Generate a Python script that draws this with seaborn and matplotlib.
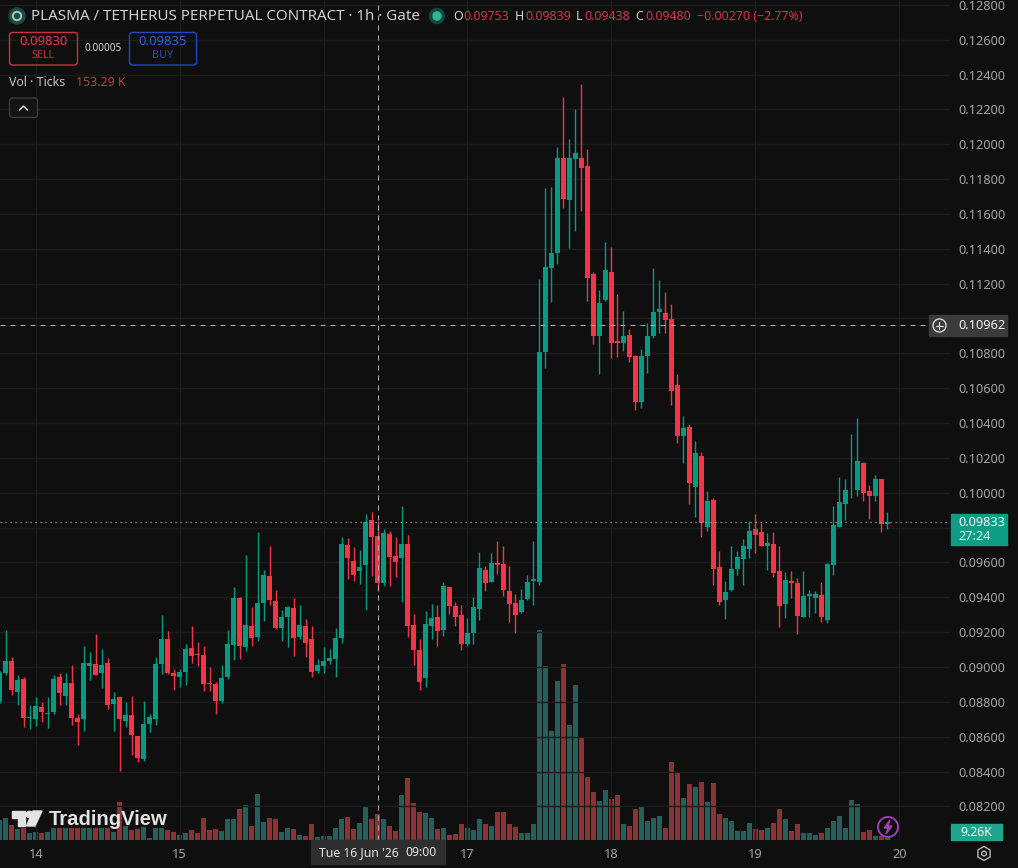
import matplotlib
matplotlib.use("Agg")
import matplotlib.pyplot as plt
from matplotlib.patches import Circle, FancyBboxPatch, Polygon, Rectangle, RegularPolygon
from matplotlib.ticker import FixedLocator, FuncFormatter, MultipleLocator
from matplotlib.transforms import blended_transform_factory
import pandas as pd
import seaborn as sns

# Hourly PLASMA/USDT perpetual candles; prices are in units of 0.00001, volume in thousands of ticks.
PRICE_UNIT = 1e-5
first_hour = -6  # hours relative to 14 June 00:00

open_prices = [
    8806, 8968, 9033, 8855, 8930, 8706, 8700, 8769, 8729, 8741, 8942, 8833, 8907, 8706, 8700, 9005,
    9016, 8965, 9022, 8787, 8827, 8689, 8723, 8603, 8471, 8672, 8700, 9016, 9160, 8965, 8942, 8970,
    9108, 9074, 9068, 8907, 8901, 8804, 8942, 9125, 9395, 9114, 9234, 9171, 9366, 9521, 9378, 9223,
    9286, 9337, 9171, 9234, 9160, 8976, 9005, 9033, 9045, 9165, 9699, 9607, 9550, 9584, 9842, 9753,
    9481, 9762, 9636, 9624, 9705, 9240, 9096, 8936, 9234, 9286, 9211, 9458, 9349, 9297, 9131, 9194,
    9332, 9556, 9487, 9596, 9590, 9435, 9366, 9314, 9389, 9492, 9490, 10807, 11289, 11375, 11920, 11679,
    11915, 11920, 11874, 11255, 10899, 11105, 11266, 10870, 10859, 10905, 10784, 10520, 10784, 10899, 11037, 11031,
    10996, 10618, 10328, 10379, 10030, 10213, 9806, 9961, 9571, 9382, 9440, 9560, 9617, 9675, 9789, 9772,
    9692, 9703, 9548, 9359, 9491, 9480, 9285, 9409, 9394, 9411, 9268, 9583, 9806, 9938, 10013, 10018,
    10173, 10007, 9984, 10081, 9818,
]
high_prices = [
    8978, 9212, 9055, 8953, 8942, 8781, 8825, 8798, 8827, 8953, 8963, 8965, 9010, 8729, 9123, 9085,
    9189, 9102, 9049, 8855, 8827, 8798, 8833, 8603, 8802, 8729, 9056, 9298, 9206, 8988, 8986, 9129,
    9234, 9143, 9120, 8999, 8913, 9010, 9212, 9458, 9401, 9642, 9344, 9777, 9556, 9693, 9441, 9326,
    9349, 9395, 9358, 9274, 9234, 9045, 9114, 9102, 9221, 9745, 9739, 9688, 9670, 9877, 9888, 9839,
    9791, 9779, 9745, 9923, 9756, 9303, 9160, 9320, 9360, 9355, 9485, 9458, 9372, 9355, 9280, 9401,
    9659, 9578, 9653, 9722, 9693, 9578, 9418, 9447, 9527, 9722, 11226, 11748, 11754, 11983, 12270, 12029,
    12202, 12345, 11972, 11266, 11163, 11438, 11410, 11140, 11042, 10939, 10790, 10824, 10973, 11289, 11220, 11151,
    11082, 10681, 10442, 10396, 10299, 10236, 10007, 9972, 9663, 9491, 9692, 9663, 9737, 9835, 9875, 9829,
    9766, 9772, 9697, 9543, 9548, 9508, 9548, 9440, 9434, 9485, 9594, 9921, 10093, 10076, 10339, 10431,
    10179, 10047, 10099, 10081, 9892,
]
low_prices = [
    8796, 8953, 8840, 8781, 8656, 8643, 8660, 8683, 8649, 8729, 8781, 8781, 8666, 8551, 8632, 8924,
    8953, 8878, 8758, 8632, 8402, 8654, 8494, 8454, 8459, 8626, 8666, 8959, 8959, 8867, 8884, 8896,
    9022, 9005, 8861, 8861, 8729, 8794, 8930, 9039, 9045, 9091, 9120, 9150, 9263, 9355, 9217, 9148,
    9114, 9062, 9160, 9056, 8941, 8964, 8964, 9016, 8941, 9137, 9504, 9492, 9475, 9326, 9521, 9438,
    9466, 9464, 9515, 9372, 9171, 9010, 8867, 8884, 9160, 9119, 9177, 9303, 9234, 9096, 9119, 9131,
    9269, 9435, 9485, 9533, 9406, 9257, 9194, 9309, 9383, 9355, 9470, 10715, 11094, 11312, 11633, 11404,
    11501, 11616, 11100, 10853, 10681, 11100, 10773, 10778, 10813, 10750, 10474, 10486, 10686, 10887, 10916, 10916,
    10503, 10288, 10173, 9938, 9858, 9743, 9778, 9468, 9354, 9273, 9434, 9526, 9468, 9623, 9652, 9697,
    9554, 9514, 9228, 9279, 9394, 9187, 9285, 9285, 9308, 9256, 9250, 9526, 9806, 9846, 9972, 9984,
    9955, 9852, 9955, 9772, 9789,
]
close_prices = [
    8965, 9033, 8867, 8924, 8706, 8712, 8775, 8741, 8735, 8930, 8850, 8907, 8706, 8683, 9022, 9022,
    8953, 9010, 8781, 8815, 8700, 8723, 8609, 8476, 8672, 8712, 9016, 9160, 8965, 8947, 8970, 9102,
    9062, 9068, 8901, 8901, 8804, 8936, 9131, 9395, 9120, 9240, 9166, 9366, 9527, 9383, 9226, 9286,
    9343, 9165, 9240, 9137, 8970, 9010, 9033, 9051, 9165, 9705, 9624, 9527, 9573, 9833, 9745, 9480,
    9768, 9630, 9601, 9705, 9234, 9096, 8913, 9246, 9280, 9205, 9464, 9349, 9286, 9131, 9194, 9343,
    9567, 9481, 9596, 9584, 9441, 9360, 9297, 9383, 9487, 9504, 10807, 11295, 11375, 11920, 11685, 11920,
    11949, 11863, 11232, 10899, 11088, 11278, 10859, 10859, 10899, 10778, 10520, 10784, 10899, 11037, 11054, 10991,
    10583, 10328, 10374, 10053, 10230, 9829, 9950, 9560, 9371, 9428, 9560, 9629, 9697, 9783, 9760, 9697,
    9709, 9537, 9348, 9497, 9480, 9291, 9405, 9417, 9417, 9285, 9589, 9812, 9944, 10013, 10018, 10184,
    10001, 9984, 10076, 9818, 9833,
]
volumes = [
    118, 132, 89, 65, 71, 41, 47, 39, 47, 71, 71, 70, 71, 71, 72, 71,
    70, 71, 71, 47, 224, 83, 59, 65, 79, 12, 71, 71, 59, 47, 30, 41,
    59, 41, 130, 59, 65, 53, 124, 124, 183, 207, 83, 271, 106, 130, 126, 47,
    71, 65, 30, 24, 94, 18, 24, 24, 71, 124, 136, 65, 100, 201, 124, 153.29,
    124, 83, 55, 266, 366, 218, 165, 159, 130, 65, 71, 30, 35, 94, 71, 59,
    124, 94, 83, 165, 165, 94, 77, 41, 41, 94, 1239, 1027, 643, 938, 1039, 679,
    915, 602, 372, 283, 230, 295, 242, 266, 94, 83, 183, 201, 112, 130, 142, 71,
    460, 401, 248, 330, 313, 342, 224, 336, 153, 130, 112, 53, 53, 100, 65, 59,
    71, 100, 183, 124, 53, 94, 41, 41, 30, 41, 71, 112, 142, 71, 236, 212,
    47, 59, 24, 24, 9.26,
]
# The "16" slot and the prices under the crosshair and last-price tags stay unlabelled.
day_labels = ["14", "15", "", "17", "18", "19", "20"]
hidden_price_labels = ["0.11000", "0.09800"]
crosshair_hour = 57
crosshair_price = 0.10962
last_price = 0.09833

BG = "#0f0f0f"
GRID = "#1b1b1b"
UP = "#089981"
DOWN = "#f23645"
VOL_UP = "#245f59"
VOL_DOWN = "#8a3236"
AXIS_TEXT = "#a3a3a3"
LIGHT_TEXT = "#d6d6d6"
CROSSHAIR = "#a6a6a6"

sns.set_theme(style="dark")
plt.rcParams["font.family"] = ["Noto Sans", "DejaVu Sans"]

df = pd.DataFrame({
    "hour": [first_hour + i for i in range(len(open_prices))],
    "open": open_prices,
    "high": high_prices,
    "low": low_prices,
    "close": close_prices,
    "volume": volumes,
})
df[["open", "high", "low", "close"]] *= PRICE_UNIT
df["direction"] = ["up" if c >= o else "down" for o, c in zip(df["open"], df["close"])]
candle_colors = df["direction"].map({"up": UP, "down": DOWN})

W, H = 1018, 868
PANE_W, PANE_BOTTOM = 950, 840
fig = plt.figure(figsize=(W / 100, H / 100), dpi=100, facecolor=BG)
rect = [0, (H - PANE_BOTTOM) / H, PANE_W / W, PANE_BOTTOM / H]
xlim = (-5.953, 152.46)
ylim = (0.08007, 0.128276)

# Volume pane sits underneath the candles.
vol_ax = fig.add_axes(rect, facecolor=BG, zorder=1)
sns.barplot(data=df, x="hour", y="volume", hue="direction", native_scale=True, dodge=False,
            width=0.78, palette={"up": VOL_UP, "down": VOL_DOWN}, legend=False, linewidth=0,
            saturation=1, ax=vol_ax)
vol_ax.set_xlim(xlim)
vol_ax.set_ylim(0, 4956)
vol_ax.set_xlabel("")
vol_ax.set_ylabel("")
vol_ax.yaxis.set_visible(False)
vol_ax.xaxis.set_visible(False)
for s in vol_ax.spines.values():
    s.set_visible(False)


def price_label(value, _pos):
    text = f"{value:.5f}"
    return "" if text in hidden_price_labels else text


# Price pane with candles.
ax = fig.add_axes(rect, facecolor="none", zorder=2)
ax.set_xlim(xlim)
ax.set_ylim(ylim)
ax.yaxis.set_major_locator(MultipleLocator(0.002))
ax.yaxis.set_major_formatter(FuncFormatter(price_label))
ax.yaxis.tick_right()
ax.xaxis.set_major_locator(FixedLocator([24 * i for i in range(len(day_labels))]))
ax.set_xticklabels(day_labels)
ax.tick_params(axis="y", length=0, pad=6, labelsize=9.2, labelcolor=AXIS_TEXT)
ax.tick_params(axis="x", length=0, pad=6, labelsize=9.2, labelcolor=AXIS_TEXT)
ax.grid(True, color=GRID, linewidth=1)
ax.set_axisbelow(True)
ax.set_xlabel("")
ax.set_ylabel("")
for s in ax.spines.values():
    s.set_visible(False)

ax.vlines(df["hour"], df["low"], df["high"], colors=candle_colors, linewidth=1.0, zorder=3)
ax.bar(df["hour"], (df["close"] - df["open"]).abs(), bottom=df[["open", "close"]].min(axis=1),
       width=0.88, color=candle_colors, linewidth=0, zorder=4)

# Crosshair and last-price line.
ax.axvline(crosshair_hour, color=CROSSHAIR, linewidth=0.8, linestyle=(0, (4.5, 4.5)), zorder=5)
ax.plot([xlim[0], xlim[1] - 3.5], [crosshair_price] * 2, color=CROSSHAIR, linewidth=0.8,
        linestyle=(0, (4.5, 4.5)), zorder=5)
ax.axhline(last_price, color="#7fb8ac", linewidth=0.9, linestyle=(0, (1, 3)), zorder=5)

# Screen-space layer for the toolbar, tags and watermark.
ov = fig.add_axes([0, 0, 1, 1], facecolor="none", zorder=10)
ov.set_xlim(0, W)
ov.set_ylim(H, 0)
ov.axis("off")


def label(x, y, s, color=LIGHT_TEXT, size=9.2, ha="left", weight="normal", **kw):
    ov.text(x, y, s, color=color, fontsize=size, ha=ha, va="center", fontweight=weight, **kw)


def box(x0, y0, x1, y1, edge, face="none", radius=3, lw=1.0):
    ov.add_patch(FancyBboxPatch((x0, y0), x1 - x0, y1 - y0, boxstyle=f"round,pad=0,rounding_size={radius}",
                                edgecolor=edge, facecolor=face, linewidth=lw))


# Title row.
ov.add_patch(Circle((17, 16), 8, color="#1d4a42"))
ov.add_patch(Circle((17, 16), 4.2, fill=False, edgecolor="#a9c9c0", linewidth=1.4))
label(31, 16, "PLASMA / TETHERUS PERPETUAL CONTRACT \u00b7 1h \u00b7 Gate", size=10.9, color="#cfcfcf")
ov.add_patch(Circle((437, 16), 7.5, color="#14453d"))
ov.add_patch(Circle((437, 16), 4, color="#2bb79c"))
header_red = "#d8324a"
for x, s, c in [(453, "O", LIGHT_TEXT), (463, "0.09753", header_red), (515, "H", LIGHT_TEXT),
                (525, "0.09839", header_red), (576, "L", LIGHT_TEXT), (584, "0.09438", header_red),
                (635, "C", LIGHT_TEXT), (645, "0.09480", header_red),
                (697, "\u22120.00270 (\u22122.77%)", header_red)]:
    label(x, 17, s, color=c, size=8.9)

# Sell / buy buttons.
box(9.5, 32.5, 77.5, 65, "#c8323e")
label(43.5, 41.5, "0.09830", color="#f23645", size=9.4, ha="center")
label(43.5, 56, "SELL", color="#c8323e", size=7.8, ha="center")
label(103, 48.5, "0.00005", color=LIGHT_TEXT, size=7.2, ha="center")
box(129.5, 32.5, 196.5, 65, "#2445c4")
label(163, 41.5, "0.09835", color="#2f5fe8", size=9.4, ha="center")
label(163, 56, "BUY", color="#2445a8", size=7.8, ha="center")

# Volume legend and collapse button.
label(9, 82.5, "Vol \u00b7 Ticks", color="#c4c4c4", size=8.9)
label(76, 82.5, "153.29 K", color="#b8453f", size=8.9)
box(9.5, 98, 37.5, 117.5, "#3a3a3a", face="#141414")
ov.plot([19.5, 23.5, 27.5], [110, 106, 110], color="#d0d0d0", linewidth=1.1)

# Watermark.
wm = "#e3e3e3"
ov.add_patch(Polygon([(12, 811), (25, 811), (25, 826), (18, 826), (18, 818), (12, 818)], color=wm))
ov.add_patch(Circle((29.5, 814.5), 3.2, color=wm))
ov.add_patch(Polygon([(33, 811), (42, 811), (35, 826), (26.5, 826)], color=wm))
label(49, 819.5, "TradingView", color=wm, size=14.6, weight="bold", family="Liberation Sans")

# Price-scale tags.
y_to_ax = blended_transform_factory(ov.transData, ax.transData)
ov.add_patch(Rectangle((929, 315), 21, 21, color="#3b3b3b"))
ov.add_patch(Circle((939.5, 325.5), 6.5, fill=False, edgecolor="#d8d8d8", linewidth=1))
ov.plot([936, 943], [325.5, 325.5], color="#d8d8d8", linewidth=0.9)
ov.plot([939.5, 939.5], [322, 329], color="#d8d8d8", linewidth=0.9)
ov.add_patch(Rectangle((951, 315), 56, 21, color="#3b3b3b"))
ov.text(958, crosshair_price, f"{crosshair_price:.5f}", transform=y_to_ax, color="#f2f2f2",
        fontsize=9.2, ha="left", va="center")
ov.add_patch(Rectangle((951, 514), 56, 31, color="#0f9c84"))
label(958, 522.5, "0.09833", color="#f2f8f6", size=9.2)
label(958, 537, "27:24", color="#d5eee8", size=9.2)
ov.add_patch(Rectangle((951, 824), 51, 16, color="#21a58d"))
label(976.5, 832, "9.26K", color="#f8f8f8", size=8.8, ha="center")

# Crosshair time tag.
ov.add_patch(Rectangle((311, 840), 134, 24, color="#2e2e2e"))
label(319, 853, "Tue 16 Jun '26", color="#e6e6e6", size=8.8)
label(405, 853, "09:00", color="#e6e6e6", size=8.8)

# Corner icons.
ov.add_patch(Circle((888, 827), 10, fill=False, edgecolor="#9a3fb4", linewidth=1.4))
ov.add_patch(Polygon([(890, 820), (884, 828), (888, 828), (886, 834), (892, 826), (888, 826)], color="#9a3fb4"))
ov.add_patch(RegularPolygon((984, 853.5), 6, radius=7, fill=False, edgecolor="#b8b8b8", linewidth=1))
ov.add_patch(Circle((984, 853.5), 2.4, fill=False, edgecolor="#b8b8b8", linewidth=1))

fig.savefig("out.png", dpi=100, facecolor=BG)
